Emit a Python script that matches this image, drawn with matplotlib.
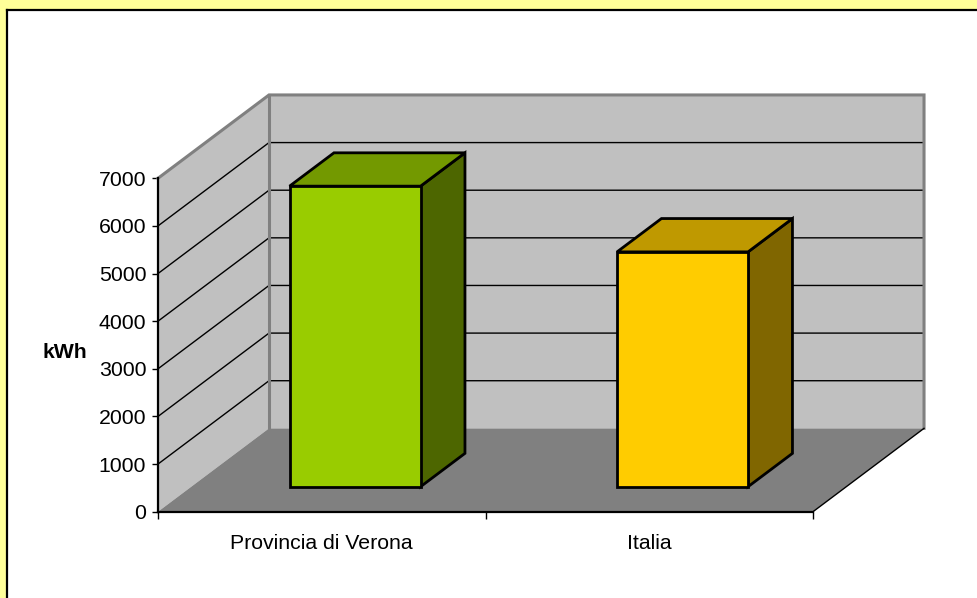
import matplotlib.pyplot as plt
from matplotlib.patches import Polygon, Rectangle
from matplotlib.lines import Line2D

plt.rcParams['font.family'] = ['Liberation Sans', 'DejaVu Sans']

# consumo elettrico pro capite
categories = ["Provincia di Verona", "Italia"]
values = [6310, 4930]
front_colors = ["#99CC00", "#FFCC00"]
top_colors = ["#739900", "#BF9900"]
side_colors = ["#4D6600", "#806600"]
y_ticks = [0, 1000, 2000, 3000, 4000, 5000, 6000, 7000]

# oblique depth offset of the 3D box (categories, kWh)
DX = 0.339
DY = 1750
YMAX = 7000
BAR_W = 0.4
D_FRONT, D_BACK = 0.3, 0.7
FS = 15.3

W, H = 977, 598
fig = plt.figure(figsize=(W / 100, H / 100), dpi=100)
fig.patch.set_facecolor("white")

# chart area frame, yellow band on top/left
fig.patches.append(Rectangle((0, 1 - 9.5 / H), 1, 9.5 / H, transform=fig.transFigure,
                             facecolor="#FFFF99", edgecolor="none", zorder=0))
fig.patches.append(Rectangle((0, 0), 6.5 / W, 1, transform=fig.transFigure,
                             facecolor="#FFFF99", edgecolor="none", zorder=0))
fig.lines.append(Line2D([7 / W, 1], [1 - 10 / H, 1 - 10 / H], transform=fig.transFigure,
                        color="black", lw=1.6))
fig.lines.append(Line2D([7.2 / W, 7.2 / W], [0, 1 - 10 / H], transform=fig.transFigure,
                        color="black", lw=1.6))

ax = fig.add_axes([158 / W, (H - 511.7) / H, 655 / W, 333.4 / H])
ax.set_xlim(0, len(categories))
ax.set_ylim(0, YMAX)
ax.patch.set_visible(False)

n = len(categories)
wall = "#C0C0C0"
edge_gray = "#808080"

# walls and floor
ax.add_patch(Polygon([(0, 0), (0, YMAX), (DX, YMAX + DY), (DX, DY)],
                     facecolor=wall, edgecolor="none", clip_on=False, zorder=1))
ax.add_patch(Polygon([(DX, DY), (n + DX, DY), (n + DX, YMAX + DY), (DX, YMAX + DY)],
                     facecolor=wall, edgecolor="none", clip_on=False, zorder=1))
ax.add_patch(Polygon([(0, 0), (n, 0), (n + DX, DY), (DX, DY)],
                     facecolor="#808080", edgecolor="none", clip_on=False, zorder=1))

# gridlines on side and back wall
for v in y_ticks[1:-1]:
    ax.plot([0, DX, n + DX], [v, v + DY, v + DY], color="black", lw=1.0,
            clip_on=False, zorder=2)

# wall edges
ax.plot([0, DX, n + DX, n + DX], [YMAX, YMAX + DY, YMAX + DY, DY],
        color=edge_gray, lw=2.2, clip_on=False, zorder=3, solid_joinstyle="miter")
ax.plot([DX, DX], [DY, YMAX + DY], color=edge_gray, lw=2.2, clip_on=False, zorder=3)
ax.plot([n, n + DX], [0, DY], color="black", lw=1.0, clip_on=False, zorder=3)

# 3D bars
for i, v in enumerate(values):
    xl = i + 0.5 - BAR_W / 2
    xr = i + 0.5 + BAR_W / 2
    fx, fy = D_FRONT * DX, D_FRONT * DY
    bx, by = D_BACK * DX, D_BACK * DY
    kw = dict(edgecolor="black", lw=2.0, clip_on=False, joinstyle="miter")
    ax.add_patch(Polygon([(xr + fx, fy), (xr + bx, by), (xr + bx, v + by), (xr + fx, v + fy)],
                         facecolor=side_colors[i], zorder=4, **kw))
    ax.add_patch(Polygon([(xl + fx, v + fy), (xr + fx, v + fy), (xr + bx, v + by), (xl + bx, v + by)],
                         facecolor=top_colors[i], zorder=4, **kw))
    ax.add_patch(Polygon([(xl + fx, fy), (xr + fx, fy), (xr + fx, v + fy), (xl + fx, v + fy)],
                         facecolor=front_colors[i], zorder=5, **kw))

# axes
for s in ["top", "right"]:
    ax.spines[s].set_visible(False)
for s in ["left", "bottom"]:
    ax.spines[s].set_linewidth(1.6)
    ax.spines[s].set_zorder(6)

ax.set_yticks(y_ticks)
ax.set_yticklabels([str(t) for t in y_ticks])
ax.tick_params(axis="y", direction="out", length=4.5, width=1.0, pad=4, labelsize=FS)
ax.set_xticks(range(n + 1))
ax.set_xticklabels([])
ax.set_xticks([i + 0.5 for i in range(n)], minor=True)
ax.set_xticklabels(categories, minor=True)
ax.tick_params(axis="x", which="major", direction="out", length=5, width=1.0)
ax.tick_params(axis="x", which="minor", length=0, pad=16, labelsize=FS)

ax.set_ylabel("kWh", rotation=0, fontweight="bold", fontsize=FS, ha="center", va="center")
ax.yaxis.set_label_coords(-0.142, 0.479)

fig.savefig("out.png", dpi=100)
